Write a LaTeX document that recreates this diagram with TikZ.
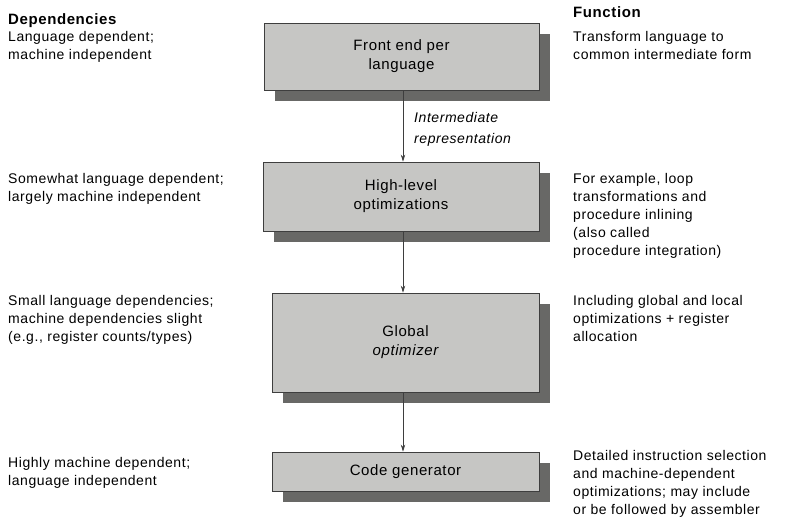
\documentclass[tikz,border=0pt]{standalone}
\usepackage{fontspec}
\setmainfont{Liberation Sans}[LetterSpace=4.0]
\usetikzlibrary{arrows.meta,shadows}
\definecolor{boxfill}{RGB}{198,198,196}
\definecolor{boxshade}{RGB}{104,104,102}
\definecolor{boxline}{RGB}{62,62,62}
\tikzset{
  stage/.style={draw=boxline, line width=0.8pt, fill=boxfill, inner sep=0pt,
    align=center, font=\fontsize{15}{19}\selectfont,
    drop shadow={shadow xshift=11pt, shadow yshift=-11pt, fill=boxshade, opacity=1}},
  note/.style={anchor=north west, inner sep=0pt, align=left,
    font=\fontsize{14}{18}\selectfont},
  flow/.style={-{Stealth[length=7pt,width=4.5pt]}, line width=0.8pt, draw=boxline}
}
\begin{document}
\begin{tikzpicture}[x=1pt,y=-1pt]
  \useasboundingbox (0,0) rectangle (792,528);
  % the four stages
  \node[stage, minimum width=275pt, minimum height=67pt] (front) at (401.5,56.5) {Front end per\\language};
  \node[stage, minimum width=276pt, minimum height=69pt] (high) at (401,196.5) {High-level\\optimizations};
  \node[stage, minimum width=267pt, minimum height=99pt] (global) at (405.5,342.5) {Global\\\itshape optimizer};
  \node[stage, minimum width=267pt, minimum height=39pt] (codegen) at (405.5,471.5) {Code generator};
  % arrows between stages
  \coordinate (axis) at (403,0);
  \draw[flow] (axis |- front.south) -- (axis |- high.north);
  \draw[flow] (axis |- high.south) -- (axis |- global.north);
  \draw[flow] (axis |- global.south) -- (axis |- codegen.north);
  \node[note, font=\fontsize{14}{21}\selectfont\itshape] (ir) at (414,112) {Intermediate\\representation};
  % left column
  \node[note, font=\fontsize{15}{18}\selectfont\bfseries] (depshead) at (8,13) {Dependencies};
  \node[note] (dep1) at (8,31) {Language dependent;\\machine independent};
  \node[note] (dep2) at (8,173) {Somewhat language dependent;\\largely machine independent};
  \node[note] (dep3) at (8,295) {Small language dependencies;\\machine dependencies slight\\(e.g., register counts/types)};
  \node[note] (dep4) at (8,457) {Highly machine dependent;\\language independent};
  % right column
  \node[note, font=\fontsize{15}{18}\selectfont\bfseries] (funchead) at (573,6) {Function};
  \node[note] (fun1) at (573,31) {Transform language to\\common intermediate form};
  \node[note] (fun2) at (573,173) {For example, loop\\transformations and\\procedure inlining\\(also called\\procedure integration)};
  \node[note] (fun3) at (573,295) {Including global and local\\optimizations + register\\allocation};
  \node[note] (fun4) at (573,450) {Detailed instruction selection\\and machine-dependent\\optimizations; may include\\or be followed by assembler};
\end{tikzpicture}
\end{document}
